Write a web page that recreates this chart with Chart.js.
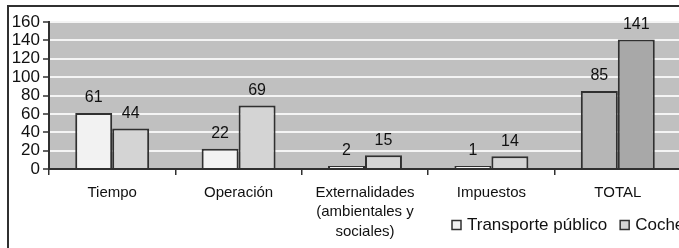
<!DOCTYPE html>
<html>
<head>
<meta charset="utf-8">
<script src="https://cdn.jsdelivr.net/npm/chart.js@4.4.1/dist/chart.umd.min.js"></script>
<style>
  html, body { margin: 0; padding: 0; background: #fff; overflow: hidden; width: 679px; height: 248px; }
  #wrap { position: absolute; left: 0; top: 0; width: 700px; height: 248px; }
  #frame { position: absolute; left: 7px; top: 5px; width: 800px; height: 400px;
           border-left: 2px solid #303030; border-top: 2px solid #303030; pointer-events: none; }
</style>
</head>
<body>
<div id="wrap"><canvas id="c" width="700" height="248"></canvas></div>
<div id="frame"></div>
<script>
const categories = ["Tiempo", "Operación", ["Externalidades", "(ambientales y", "sociales)"], "Impuestos", "TOTAL"];
const seriesNames = ["Transporte público", "Coche"];
const transportePublico = [61, 22, 2, 1, 85];
const coche = [44, 69, 15, 14, 141];
const yTicks = [0, 20, 40, 60, 80, 100, 120, 140, 160];

const FONT = "'Liberation Sans', Arial, sans-serif";
const TEXT = "#111111";
const colA = ["#f2f2f2", "#f2f2f2", "#f2f2f2", "#f2f2f2", "#b6b6b6"];
const colB = ["#d4d4d4", "#d4d4d4", "#d4d4d4", "#d4d4d4", "#a8a8a8"];

const bgPlugin = {
  id: "bg",
  beforeDraw(chart) {
    const a = chart.chartArea, ctx = chart.ctx;
    ctx.save();
    ctx.fillStyle = "#c0c0c0";
    ctx.fillRect(a.left, a.top, a.right - a.left, a.bottom - a.top);
    ctx.restore();
  }
};

const labelPlugin = {
  id: "vals",
  afterDatasetsDraw(chart) {
    const ctx = chart.ctx;
    ctx.save();
    ctx.font = "16px " + FONT;
    ctx.fillStyle = TEXT;
    ctx.textAlign = "center";
    ctx.textBaseline = "middle";
    chart.data.datasets.forEach((ds, i) => {
      chart.getDatasetMeta(i).data.forEach((bar, j) => {
        ctx.fillText(String(ds.data[j]), bar.x, bar.y - 15);
      });
    });
    ctx.restore();
  }
};

const legendPlugin = {
  id: "leg",
  afterDraw(chart) {
    const ctx = chart.ctx;
    ctx.save();
    ctx.font = "17px " + FONT;
    ctx.textBaseline = "middle";
    let x = 452;
    const yc = 225;
    chart.data.datasets.forEach((ds, i) => {
      ctx.fillStyle = i === 0 ? "#f2f2f2" : "#d4d4d4";
      ctx.fillRect(x, yc - 4.5, 9, 9);
      ctx.strokeStyle = "#303030";
      ctx.lineWidth = 1.5;
      ctx.strokeRect(x, yc - 4.5, 9, 9);
      ctx.fillStyle = TEXT;
      ctx.fillText(ds.label, x + 15, yc);
      x += 15 + ctx.measureText(ds.label).width + 13;
    });
    ctx.restore();
  }
};

new Chart(document.getElementById("c"), {
  type: "bar",
  data: {
    labels: categories,
    datasets: [
      { label: seriesNames[0], data: transportePublico, backgroundColor: colA,
        borderColor: "#303030", borderWidth: 2 },
      { label: seriesNames[1], data: coche, backgroundColor: colB,
        borderColor: "#303030", borderWidth: 2 }
    ]
  },
  options: {
    responsive: false,
    animation: false,
    events: [],
    layout: { padding: { left: 0, right: 19, top: 22, bottom: 0 } },
    datasets: { bar: { barPercentage: 1, categoryPercentage: 0.585, minBarLength: 3 } },
    plugins: { legend: { display: false }, tooltip: { enabled: false } },
    scales: {
      x: {
        offset: true,
        grid: { display: true, drawOnChartArea: false, offset: true, tickLength: 6,
                color: "#303030", lineWidth: 1.5 },
        border: { display: true, color: "#303030", width: 2 },
        ticks: { color: TEXT, font: { family: FONT, size: 15, lineHeight: 1.3 },
                 padding: 8, maxRotation: 0, autoSkip: false },
        afterFit(s) { s.height = 79; }
      },
      y: {
        min: 0, max: 160,
        afterBuildTicks(s) { s.ticks = yTicks.map(v => ({ value: v })); },
        grid: { color: (c) => (c.tick && c.tick.value === 0 ? "rgba(0,0,0,0)" : "#f4f4f4"),
                lineWidth: 2, tickLength: 6, tickColor: "#303030", tickWidth: 1.5 },
        border: { display: true, color: "#303030", width: 2 },
        ticks: { color: TEXT, font: { family: FONT, size: 17 }, padding: 3, autoSkip: false },
        afterFit(s) { s.width = 49; }
      }
    }
  },
  plugins: [bgPlugin, labelPlugin, legendPlugin]
});
</script>
</body>
</html>
